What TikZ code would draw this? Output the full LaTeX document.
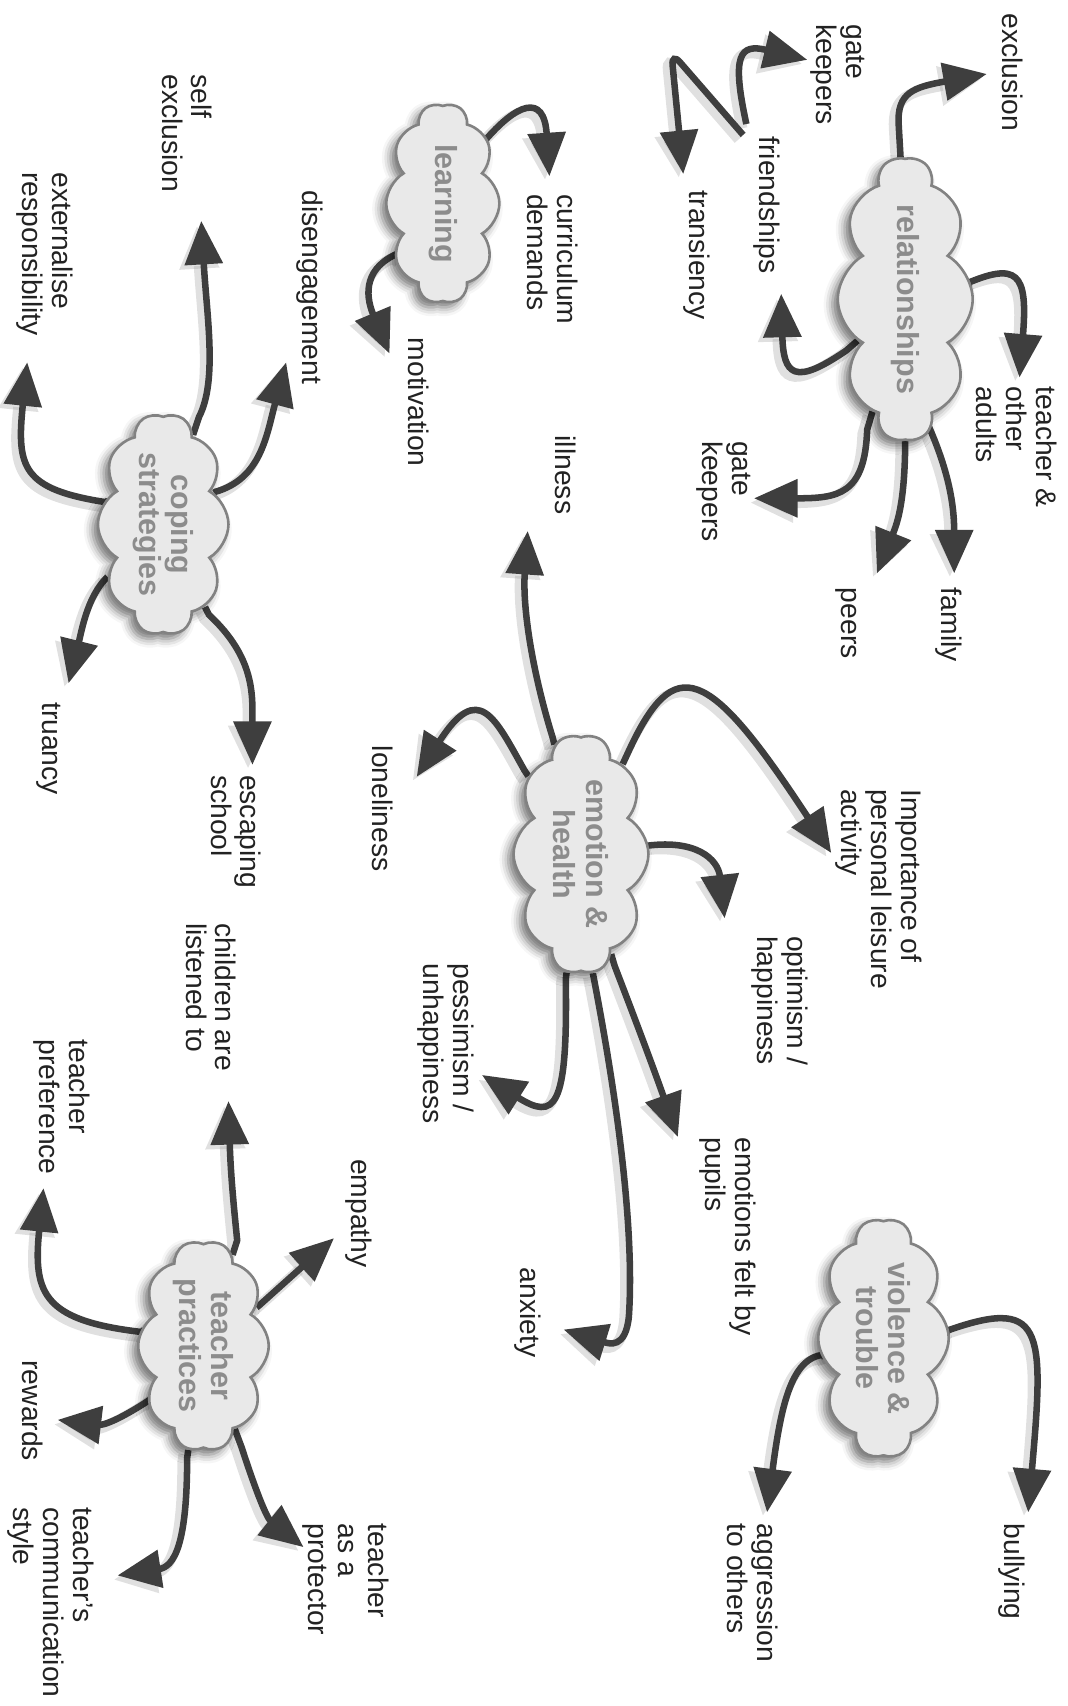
\documentclass[tikz,border=0pt]{standalone}
\usepackage{fontspec}
\setmainfont{Liberation Sans}
\usetikzlibrary{shapes.symbols,shadows.blur,arrows.meta,backgrounds}
\definecolor{arrowgray}{HTML}{3E3E3E}
\definecolor{cloudfill}{HTML}{E9E9E9}
\definecolor{cloudline}{HTML}{828282}
\definecolor{cloudtext}{HTML}{8C8C8C}
\definecolor{labeltext}{HTML}{222222}

\begin{document}
\begin{tikzpicture}[x=0.5pt, y=-0.5pt,
    lbl/.style={rotate=-90, anchor=west, align=left, inner sep=0pt, text=labeltext,
      font=\fontsize{13}{13.75}\selectfont},
    topic/.style={cloud, cloud puffs=10, cloud puff arc=120, cloud ignores aspect,
      rotate=-90, draw=cloudline, line width=1.2pt, fill=cloudfill, text=cloudtext,
      align=center, inner sep=0pt, font=\bfseries\fontsize{14}{15}\selectfont,
      blur shadow={shadow xshift=-2.5pt, shadow yshift=-2.5pt, shadow blur radius=4pt,
        shadow opacity=55}},
    arr/.style={draw=arrowgray, line width=3pt, -{Triangle[length=20pt,width=17pt]},
      preaction={draw=black!40, opacity=0.3, line width=5pt,
        transform canvas={shift={(-2pt,-2pt)}}}}]
    \useasboundingbox (0,0) rectangle (981,1568);

    % topics
    \node[topic, minimum width=130pt, minimum height=62pt] (rel) at (832,275) {relationships};
    \node[topic, minimum width=92pt, minimum height=52pt] (learn) at (407,187) {learning};
    \node[topic, minimum width=102pt, minimum height=60pt] (cope) at (150,482) {coping\\strategies};
    \node[topic, minimum width=110pt, minimum height=62pt] (emo) at (534,785) {emotion \&\\health};
    \node[topic, minimum width=110pt, minimum height=60pt] (viol) at (812,1230) {violence \&\\trouble};
    \node[topic, minimum width=97pt, minimum height=60pt] (teach) at (187,1237) {teacher\\practices};

    % relationships
    \node[lbl] (excl) at (931,12) {exclusion};
    \node[lbl] (gate1) at (770,22) {gate\\keepers};
    \node[lbl] (friend) at (705,125) {friendships};
    \node[lbl] (trans) at (640,175) {transiency};
    \node[lbl] (adults) at (934,355) {teacher \&\\other\\adults};
    \node[lbl] (gate2) at (665,405) {gate\\keepers};
    \node[lbl] (family) at (872,540) {family};
    \node[lbl] (peers) at (778,540) {peers};
    % learning
    \node[lbl] (curric) at (508,178) {curriculum\\demands};
    \node[lbl] (motiv) at (385,310) {motivation};
    % coping strategies
    \node[lbl] (selfex) at (172,68) {self\\exclusion};
    \node[lbl] (diseng) at (285,175) {disengagement};
    \node[lbl] (extern) at (41,158) {externalise\\responsibility};
    \node[lbl] (truancy) at (45,645) {truancy};
    \node[lbl] (escape) at (217,712) {escaping\\school};
    % emotion & health
    \node[lbl] (ill) at (520,400) {illness};
    \node[lbl] (lonely) at (352,685) {loneliness};
    \node[lbl] (leisure) at (808,725) {Importance of\\personal leisure\\activity};
    \node[lbl] (optim) at (717,860) {optimism /\\happiness};
    \node[lbl] (pessim) at (410,885) {pessimism /\\unhappiness};
    \node[lbl] (felt) at (669,1045) {emotions felt by\\pupils};
    \node[lbl] (anx) at (485,1165) {anxiety};
    % violence & trouble
    \node[lbl] (bully) at (930,1400) {bullying};
    \node[lbl] (aggr) at (692,1400) {aggression\\to others};
    % teacher practices
    \node[lbl] (listen) at (194,848) {children are\\listened to};
    \node[lbl] (empathy) at (330,1065) {empathy};
    \node[lbl] (prefer) at (57,955) {teacher\\preference};
    \node[lbl] (reward) at (30,1250) {rewards};
    \node[lbl] (commun) at (47,1385) {teacher's\\communication\\style};
    \node[lbl] (protect) at (318,1400) {teacher\\as a\\protector};

    % arrow tips
    \coordinate (excl-t) at (907,68);
    \coordinate (gate1-t) at (742,55);
    \coordinate (friend-s) at (686,114);
    \coordinate (trans-t) at (628,160);
    \coordinate (friend-t) at (718,270);
    \coordinate (adults-t) at (937,347);
    \coordinate (gate2-t) at (693,458);
    \coordinate (family-t) at (877,527);
    \coordinate (peers-t) at (806,527);
    \coordinate (curric-t) at (505,162);
    \coordinate (motiv-t) at (358,325);
    \coordinate (selfex-t) at (185,203);
    \coordinate (diseng-t) at (263,333);
    \coordinate (extern-t) at (25,333);
    \coordinate (truancy-t) at (63,628);
    \coordinate (escape-t) at (232,703);
    \coordinate (ill-t) at (485,488);
    \coordinate (lonely-t) at (383,714);
    \coordinate (leisure-t) at (764,784);
    \coordinate (optim-t) at (666,844);
    \coordinate (felt-t) at (623,1045);
    \coordinate (anx-t) at (518,1222);
    \coordinate (pessim-t) at (443,988);
    \coordinate (bully-t) at (945,1390);
    \coordinate (aggr-t) at (705,1390);
    \coordinate (listen-t) at (210,1012);
    \coordinate (empathy-t) at (307,1138);
    \coordinate (prefer-t) at (40,1092);
    \coordinate (reward-t) at (53,1305);
    \coordinate (commun-t) at (108,1448);
    \coordinate (protect-t) at (279,1422);

    \begin{scope}[on background layer]
    \draw[arr] (rel) -- (828,150) -- (826,115) .. controls (824,85) and (840,80) .. (excl-t);
    \draw[arr] (rel) -- (885,262) .. controls (935,240) and (945,250) .. (adults-t);
    \draw[arr] (rel) -- (855,395) .. controls (870,430) and (877,460) .. (family-t);
    \draw[arr] (rel) -- (832,402) .. controls (832,460) and (825,480) .. (peers-t);
    \draw[arr] (rel) -- (797,395) .. controls (795,455) and (770,458) .. (gate2-t);
    \draw[arr] (rel) -- (778,322) .. controls (730,355) and (720,345) .. (friend-t);
    \draw[arr] (friend-s) .. controls (672,50) and (680,40) .. (gate1-t);
    \draw[arr, rounded corners=6pt] (683,124) -- (617,48) -- (trans-t);

    \draw[arr] (learn) -- (445,130) .. controls (475,95) and (500,85) .. (curric-t);
    \draw[arr] (learn) -- (368,232) .. controls (335,245) and (335,270) .. (motiv-t);

    \draw[arr] (cope) -- (183,383) .. controls (200,350) and (190,290) .. (selfex-t);
    \draw[arr] (cope) -- (198,452) .. controls (240,440) and (245,400) .. (diseng-t);
    \draw[arr] (cope) -- (100,462) .. controls (20,450) and (15,430) .. (extern-t);
    \draw[arr] (cope) -- (97,532) .. controls (80,550) and (75,580) .. (truancy-t);
    \draw[arr] (cope) -- (192,565) .. controls (235,605) and (232,640) .. (escape-t);

    \draw[arr] (emo) -- (508,678) .. controls (490,620) and (480,560) .. (ill-t);
    \draw[arr] (emo) -- (482,708) .. controls (455,660) and (440,625) .. (lonely-t);
    \draw[arr] (emo) -- (578,690) .. controls (620,600) and (650,610) .. (leisure-t);
    \draw[arr] (emo) -- (590,778) .. controls (640,770) and (660,790) .. (optim-t);
    \draw[arr] (emo) -- (565,888) .. controls (585,940) and (600,980) .. (felt-t);
    \draw[arr] (emo) -- (545,895) .. controls (575,1050) and (582,1150) .. (578,1210)
      .. controls (575,1240) and (560,1235) .. (anx-t);
    \draw[arr] (emo) -- (520,900) .. controls (522,1020) and (510,1030) .. (pessim-t);

    \draw[arr] (viol) -- (865,1225) .. controls (960,1190) and (960,1220) .. (bully-t);
    \draw[arr] (viol) -- (760,1245) .. controls (728,1245) and (718,1290) .. (aggr-t);

    \draw[arr] (teach) -- (218,1140) .. controls (215,1110) and (212,1080) .. (listen-t);
    \draw[arr] (teach) -- (238,1200) -- (empathy-t);
    \draw[arr] (teach) -- (137,1225) .. controls (40,1215) and (30,1190) .. (prefer-t);
    \draw[arr] (teach) -- (140,1285) .. controls (110,1305) and (95,1310) .. (reward-t);
    \draw[arr] (teach) -- (172,1340) .. controls (172,1420) and (160,1440) .. (commun-t);
    \draw[arr] (teach) -- (222,1330) .. controls (235,1370) and (245,1395) .. (protect-t);
    \end{scope}
\end{tikzpicture}
\end{document}
